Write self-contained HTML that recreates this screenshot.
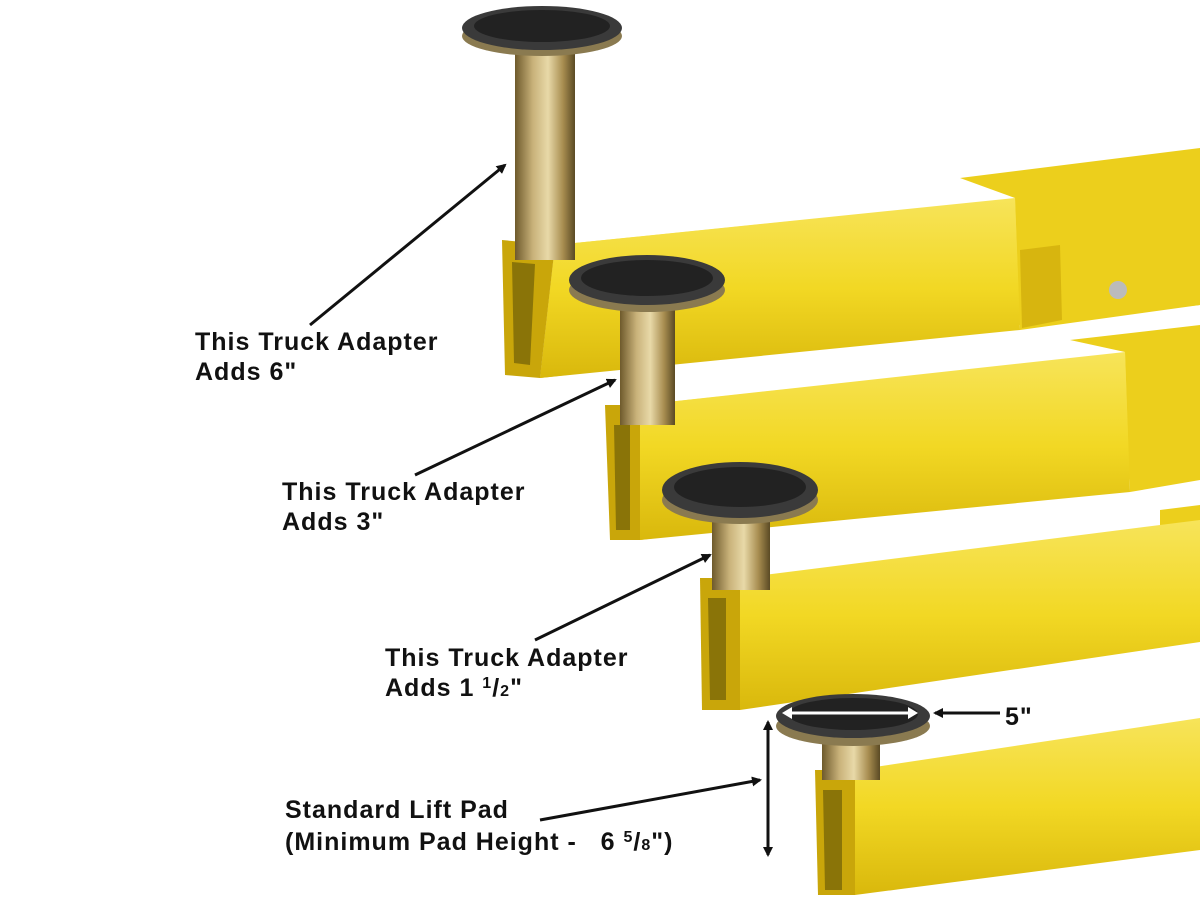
<!DOCTYPE html>
<html><head><meta charset="utf-8"><style>
html,body{margin:0;padding:0;background:#fff;}
svg{display:block}
text{font-family:"Liberation Sans",sans-serif;font-weight:bold;fill:#111;font-size:25px;letter-spacing:1px}
</style></head><body>
<svg width="1200" height="900" viewBox="0 0 1200 900" xmlns="http://www.w3.org/2000/svg">
<defs>
<linearGradient id="post" x1="0" x2="1" y1="0" y2="0">
<stop offset="0" stop-color="#6e5a2c"/><stop offset="0.3" stop-color="#c9b27a"/><stop offset="0.55" stop-color="#e8d9a8"/><stop offset="0.8" stop-color="#a88d50"/><stop offset="1" stop-color="#5a4a24"/>
</linearGradient>
<linearGradient id="arm" x1="0" x2="0" y1="0" y2="1">
<stop offset="0" stop-color="#f7e45a"/><stop offset="0.5" stop-color="#f2d824"/><stop offset="1" stop-color="#d9b80c"/>
</linearGradient>
<marker id="ah" markerWidth="10" markerHeight="10" refX="8" refY="5" orient="auto" markerUnits="userSpaceOnUse"><path d="M0,0 L10,5 L0,10 z" fill="#111"/></marker>
</defs>
<rect width="1200" height="900" fill="#fff"/>

<!-- Arm 1 -->
<polygon points="555,245 1200,180 1200,305 540,378" fill="url(#arm)"/>
<polygon points="960,178 1200,148 1200,305 1020,330 1015,198" fill="#eccf1c"/>
<polygon points="1020,250 1060,245 1062,320 1022,328" fill="#d7b50f"/>
<circle cx="1118" cy="290" r="9" fill="#bbb"/>
<polygon points="555,245 1015,198 1020,330 540,378" fill="url(#arm)"/>
<polygon points="502,240 555,245 540,378 505,375" fill="#c9a60a"/>
<polygon points="512,262 535,264 530,365 514,363" fill="#8a7408"/>
<!-- Arm 2 -->
<polygon points="640,405 1200,345 1200,470 640,540" fill="url(#arm)"/>
<polygon points="1070,340 1200,325 1200,480 1130,492 1125,352" fill="#eccf1c"/>
<polygon points="640,405 1125,352 1130,492 640,540" fill="url(#arm)"/>
<polygon points="605,405 640,405 640,540 610,540" fill="#c9a60a"/>
<polygon points="614,425 630,425 630,530 616,530" fill="#8a7408"/>
<!-- Arm 3 -->
<polygon points="1160,510 1200,505 1200,530 1160,535" fill="#eccf1c"/>
<polygon points="740,578 1200,520 1200,642 740,710" fill="url(#arm)"/>
<polygon points="700,578 740,578 740,710 702,710" fill="#c9a60a"/>
<polygon points="708,598 726,598 726,700 710,700" fill="#8a7408"/>
<!-- Arm 4 -->
<polygon points="855,770 1200,718 1200,850 855,895" fill="url(#arm)"/>
<polygon points="815,770 855,770 855,895 818,895" fill="#c9a60a"/>
<polygon points="823,790 842,790 842,890 825,890" fill="#8a7408"/>

<!-- Posts & pads -->
<rect x="515" y="45" width="60" height="215" fill="url(#post)"/>
<ellipse cx="542" cy="36" rx="80" ry="20" fill="#8a7a50"/>
<ellipse cx="542" cy="28" rx="80" ry="22" fill="#3a3a3a"/>
<ellipse cx="542" cy="26" rx="68" ry="16" fill="#222"/>

<rect x="620" y="300" width="55" height="125" fill="url(#post)"/>
<ellipse cx="647" cy="290" rx="78" ry="22" fill="#8a7a50"/>
<ellipse cx="647" cy="280" rx="78" ry="25" fill="#3a3a3a"/>
<ellipse cx="647" cy="278" rx="66" ry="18" fill="#222"/>

<rect x="712" y="510" width="58" height="80" fill="url(#post)"/>
<ellipse cx="740" cy="500" rx="78" ry="24" fill="#8a7a50"/>
<ellipse cx="740" cy="490" rx="78" ry="28" fill="#3a3a3a"/>
<ellipse cx="740" cy="487" rx="66" ry="20" fill="#222"/>

<rect x="822" y="740" width="58" height="40" fill="url(#post)"/>
<ellipse cx="853" cy="726" rx="77" ry="20" fill="#8a7a50"/>
<ellipse cx="853" cy="716" rx="77" ry="22" fill="#3a3a3a"/>
<ellipse cx="853" cy="714" rx="65" ry="16" fill="#222"/>

<!-- Arrows -->
<g stroke="#111" stroke-width="3" fill="none">
<line x1="310" y1="325" x2="505" y2="165" marker-end="url(#ah)"/>
<line x1="415" y1="475" x2="615" y2="380" marker-end="url(#ah)"/>
<line x1="535" y1="640" x2="710" y2="555" marker-end="url(#ah)"/>
<line x1="540" y1="820" x2="760" y2="780" marker-end="url(#ah)"/>
<line x1="768" y1="745" x2="768" y2="722" marker-end="url(#ah)"/>
<line x1="768" y1="745" x2="768" y2="855" marker-end="url(#ah)"/>
<line x1="1000" y1="713" x2="935" y2="713" marker-end="url(#ah)"/>
</g>
<g stroke="#fff" stroke-width="3" fill="none">
<line x1="850" y1="713" x2="785" y2="713"/>
<line x1="850" y1="713" x2="915" y2="713"/>
</g>
<path d="M782,713 l10,-6 v12 z M918,713 l-10,-6 v12 z" fill="#fff"/>

<!-- Labels -->
<text x="195" y="350">This Truck Adapter</text>
<text x="195" y="380">Adds 6"</text>
<text x="282" y="500">This Truck Adapter</text>
<text x="282" y="530">Adds 3"</text>
<text x="385" y="666">This Truck Adapter</text>
<text x="385" y="696">Adds 1 <tspan font-size="16" dy="-8">1</tspan><tspan dy="8">/</tspan><tspan font-size="16">2</tspan>"</text>
<text x="1005" y="725">5"</text>
<text x="285" y="818">Standard Lift Pad</text>
<text x="285" y="850">(Minimum Pad Height -&#160;&#160;&#160;6 <tspan font-size="16" dy="-8">5</tspan><tspan dy="8">/</tspan><tspan font-size="16">8</tspan>")</text>
</svg>
</body></html>
